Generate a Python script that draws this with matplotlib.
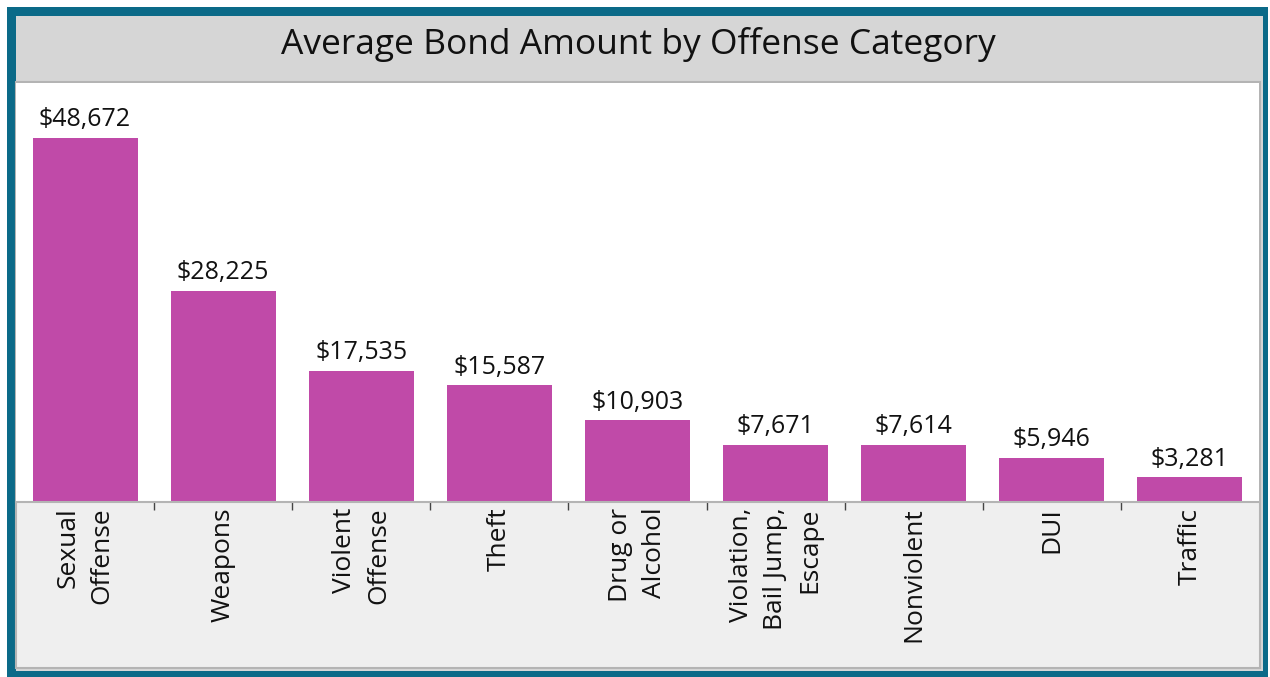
# average bond amount by offense category - bar chart

import numpy as np
import matplotlib.pyplot as plt
from matplotlib.patches import Rectangle

plt.rcParams['font.family'] = ['Open Sans', 'DejaVu Sans']

# data
categories = ["Sexual\nOffense", "Weapons", "Violent\nOffense", "Theft", "Drug or\nAlcohol",
              "Violation,\nBail Jump,\nEscape", "Nonviolent", "DUI", "Traffic"]
bond_amounts = [48672, 28225, 17535, 15587, 10903, 7671, 7614, 5946, 3281]

W, H = 1270, 677
fig = plt.figure(figsize=(W / 100, H / 100), dpi=100)
fig.patch.set_facecolor("white")

def px_rect(x0, y0, x1, y1, **kw):
    # rectangle in pixel coords (origin top-left) -> figure fraction
    r = Rectangle((x0 / W, 1 - y1 / H), (x1 - x0) / W, (y1 - y0) / H,
                  transform=fig.transFigure, zorder=-10, **kw)
    fig.patches.append(r)
    return r

teal = "#0B6A88"
px_rect(7, 7, 1268, 677, facecolor=teal, edgecolor="none")
px_rect(16, 16, 1263, 671, facecolor="#D6D6D6", edgecolor="none")
px_rect(16, 82, 1260, 668, facecolor="#EFEFEF", edgecolor="#B4B4B4", linewidth=1.5)

# title
fig.text(638 / W, 1 - 45 / H, "Average Bond Amount by Offense Category",
         ha="center", va="center", fontsize=25.5, color="#111111")

# plot area
ax = fig.add_axes([16 / W, 1 - 502 / H, (1259 - 16) / W, (502 - 83) / H])
ax.set_facecolor("white")
x = np.arange(len(categories))
bars = ax.bar(x, bond_amounts, width=0.76, color="#C04AA8")
ax.set_xlim(-0.5, len(categories) - 0.5)
ax.set_ylim(0, 56000)

for b, v in zip(bars, bond_amounts):
    ax.annotate("${:,}".format(v), (b.get_x() + b.get_width() / 2, v),
                xytext=(0, 4), textcoords="offset points",
                ha="center", va="bottom", fontsize=18, color="#111111")

ax.set_yticks([])
ax.set_xticks(x)
ax.set_xticklabels(categories, rotation=90, fontsize=19, color="#111111",
                   ha="center", va="top", multialignment="right", linespacing=1.5)
ax.tick_params(axis="x", which="major", length=0, pad=4)
ax.set_xticks(x[:-1] + 0.5, minor=True)
ax.tick_params(axis="x", which="minor", length=6, width=1, color="#444444")

for s in ["top", "left", "right"]:
    ax.spines[s].set_visible(False)
ax.spines["bottom"].set_color("#B4B4B4")
ax.spines["bottom"].set_linewidth(1.5)

plt.savefig("out.png", dpi=100)
